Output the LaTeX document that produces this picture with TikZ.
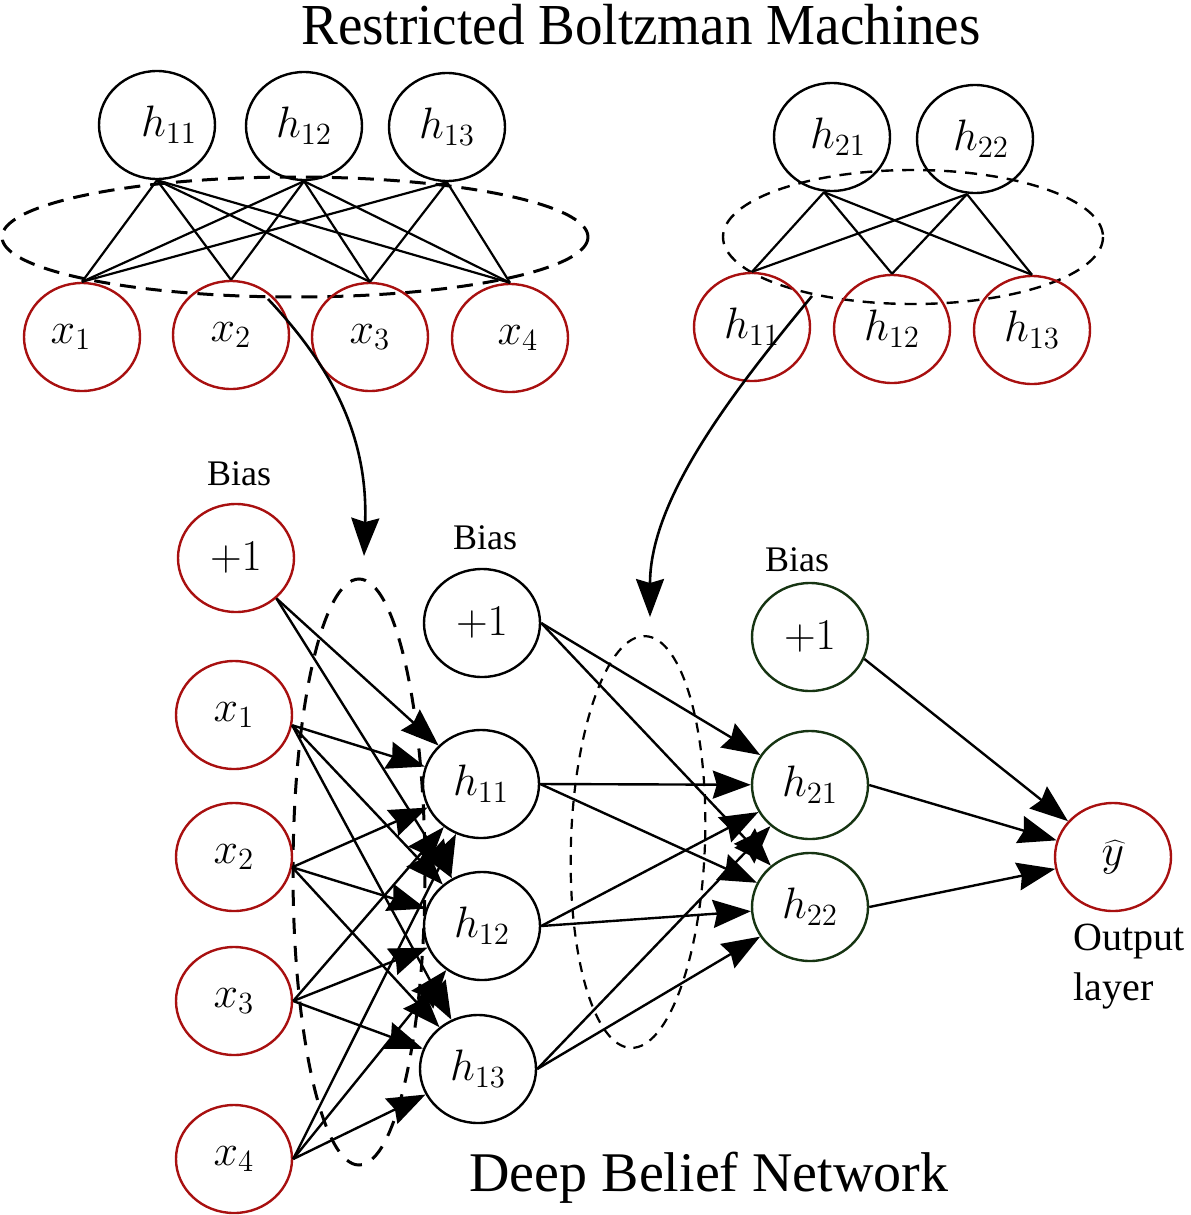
\RequirePackage{fix-cm}
\documentclass[tikz,border=0pt]{standalone}
\usepackage{fontspec}
\setmainfont{Liberation Serif}
\usetikzlibrary{shapes.geometric,arrows.meta}
\definecolor{nred}{RGB}{168,16,16}
\definecolor{ngreen}{RGB}{22,52,18}
\begin{document}
\begin{tikzpicture}[x=0.5pt,y=-0.5pt,
  unit/.style={ellipse, draw, line width=1.2pt, minimum width=58pt, minimum height=54pt, inner sep=0pt, font=\fontsize{22}{26}\selectfont},
  redu/.style={unit, draw=nred},
  grnu/.style={unit, draw=ngreen},
  edge/.style={line width=1.1pt},
  arr/.style={line width=1.2pt, -{Stealth[length=19pt,width=14pt,inset=2pt]}},
  bigarr/.style={line width=1.3pt, -{Stealth[length=19pt,width=14pt,inset=2pt]}},
  lbl/.style={inner sep=0pt, font=\fontsize{18}{22}\selectfont},
  ]
\useasboundingbox (0,0) rectangle (1190,1215);

% ---------- titles ----------
\node[inner sep=0pt, font=\fontsize{29}{34}\selectfont] (title) at (641,25) {\scalebox{0.95}[1]{Restricted Boltzman Machines}};
\node[inner sep=0pt, font=\fontsize{28}{34}\selectfont] (dbn) at (709,1178) {Deep Belief Network};

% ---------- top-left RBM ----------
\draw[line width=1.5pt, dash pattern=on 8pt off 5pt] (295,237) ellipse [x radius=293, y radius=60];
\node[unit] (ta1) at (157,125) {$\kern12pt h_{11}$};
\node[unit] (ta2) at (304,126) {$h_{12}$};
\node[unit] (ta3) at (447,127) {$h_{13}$};
\node[redu] (tx1) at (82,337) {$x_1\kern11pt$};
\node[redu] (tx2) at (231,335) {$x_2$};
\node[redu] (tx3) at (370,337) {$x_3$};
\node[redu] (tx4) at (510,338) {$\kern8pt x_4$};
\foreach \a in {ta1,ta2}
  \foreach \b in {tx1,tx2,tx3,tx4}
    \draw[edge] (\a.south) -- (\b.north);
\foreach \b in {tx1,tx3,tx4}
  \draw[edge] (ta3.south) -- (\b.north);

% ---------- top-right RBM ----------
\draw[line width=1.2pt, dash pattern=on 6pt off 4.5pt] (913,237) ellipse [x radius=190, y radius=67];
\node[unit] (tb1) at (832,137) {$\kern6pt h_{21}$};
\node[unit] (tb2) at (975,139) {$\kern6pt h_{22}$};
\node[redu] (th1) at (752,327) {$h_{11}$};
\node[redu] (th2) at (892,329) {$h_{12}$};
\node[redu] (th3) at (1032,330) {$h_{13}$};
\foreach \a in {tb1,tb2}
  \foreach \b in {th1,th2,th3}
    \draw[edge] ([xshift=-4pt]\a.south) -- (\b.north);

% ---------- curved arrows ----------
\coordinate (c1s) at (268,299);
\coordinate (c1e) at (364,556);
\draw[bigarr] (c1s) .. controls (335,370) and (368,440) .. (c1e);
\coordinate (c2s) at (812,296);
\coordinate (c2e) at (650,617);
\draw[bigarr] (c2s) .. controls (730,395) and (650,500) .. (c2e);

% ---------- DBN ellipses ----------
\draw[line width=1.5pt, dash pattern=on 8pt off 6pt] (359,872) ellipse [x radius=66, y radius=293];
\draw[line width=1.1pt, dash pattern=on 5pt off 4pt, rotate around={-2:(638,842)}] (638,842) ellipse [x radius=67, y radius=206];

% ---------- DBN nodes ----------
\node[lbl] (bias1) at (239,474) {Bias};
\node[lbl] (bias2) at (485,538) {Bias};
\node[lbl] (bias3) at (797,560) {Bias};

\node[redu] (ib) at (236,558) {$+1$};
\node[redu] (ix1) at (234,715) {$x_1$};
\node[redu] (ix2) at (234,857) {$x_2$};
\node[redu] (ix3) at (234,1001) {$x_3$};
\node[redu] (ix4) at (234,1159) {$x_4$};

\node[unit] (hb) at (482,623) {$+1$};
\node[unit] (h1) at (481,784) {$h_{11}$};
\node[unit] (h2) at (482,926) {$h_{12}$};
\node[unit] (h3) at (478,1069) {$h_{13}$};

\node[grnu] (gb) at (810,637) {$+1$};
\node[grnu] (g1) at (810,785) {$h_{21}$};
\node[grnu] (g2) at (810,907) {$h_{22}$};

\node[redu] (out) at (1113,857) {$\widehat{y}$};
\node[inner sep=0pt, anchor=north west, align=left, font=\fontsize{20}{25}\selectfont] (outlbl) at (1073,924) {Output\\layer};

% ---------- DBN edges ----------
\foreach \b in {h1,h2}
  \draw[arr] (ib.-45) -- (\b);
\foreach \a/\s in {ix1/-10,ix2/-10,ix3/0,ix4/0}
  \foreach \b in {h1,h2,h3}
    \draw[arr] (\a.\s) -- (\b);
\foreach \a in {hb,h1,h2,h3}
  \foreach \b in {g1,g2}
    \draw[arr] (\a.east) -- (\b);
\draw[arr] (gb.-22) -- (out);
\draw[arr] (g1.east) -- (out);
\draw[arr] (g2.east) -- (out);
\end{tikzpicture}
\end{document}
